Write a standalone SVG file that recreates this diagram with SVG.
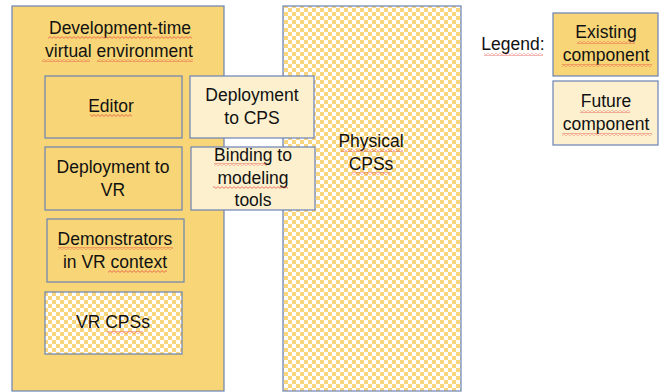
<svg xmlns="http://www.w3.org/2000/svg" width="665" height="392" viewBox="0 0 665 392">
<defs>
<pattern id="chk" width="8" height="8" patternUnits="userSpaceOnUse">
<rect width="8" height="8" fill="#FFFFFF"/>
<rect width="4" height="4" fill="#F9D67C"/>
<rect x="4" y="4" width="4" height="4" fill="#F9D67C"/>
</pattern>
<pattern id="sq" width="4" height="3" patternUnits="userSpaceOnUse">
<path d="M0 2.4 L2 0.6 L4 2.4" fill="none" stroke="#E0413A" stroke-width="0.7"/>
</pattern>
</defs>
<style>
.ex{fill:#F8D677;stroke:#6A82B6;stroke-width:1.2}
.fu{fill:#FCF0CF;stroke:#6A82B6;stroke-width:1.2}
.ck{fill:url(#chk);stroke:#6A82B6;stroke-width:1.2}
text{font-family:"Liberation Sans",Arial,sans-serif;font-size:17.5px;fill:#111;text-anchor:middle}
.sq{fill:url(#sq)}
</style>
<rect width="665" height="392" fill="#FFFFFF"/>
<g id="devenv">
<rect class="ex" x="12" y="6" width="212" height="385"/>
<text x="120" y="34">Development-time</text>
<text x="119" y="57">virtual environment</text>
</g>
<g id="physical">
<rect class="ck" x="283" y="6" width="178" height="385"/>
<text x="371" y="147">Physical</text>
<text x="371" y="170">CPSs</text>
</g>
<g id="editor">
<rect class="ex" x="45" y="76" width="137" height="62"/>
<text x="111" y="112">Editor</text>
</g>
<g id="deploycps">
<rect class="fu" x="190" y="76" width="124" height="62"/>
<text x="252" y="101">Deployment</text>
<text x="252" y="124">to CPS</text>
</g>
<g id="deployvr">
<rect class="ex" x="45" y="147" width="137" height="63"/>
<text x="113" y="173">Deployment to</text>
<text x="113" y="196">VR</text>
</g>
<g id="binding">
<rect class="fu" x="191" y="147" width="124" height="63"/>
<text x="253" y="161">Binding to</text>
<text x="253" y="184">modeling</text>
<text x="253" y="206">tools</text>
</g>
<g id="demonstrators">
<rect class="ex" x="47" y="219" width="137" height="63"/>
<text x="115" y="245">Demonstrators</text>
<text x="115" y="268">in VR context</text>
</g>
<g id="vrcps">
<rect class="ck" x="45" y="292" width="137" height="62"/>
<text x="113" y="328">VR CPSs</text>
</g>
<g id="legend">
<text x="513" y="50">Legend:</text>
<rect class="ex" x="553" y="13" width="105" height="63"/>
<text x="606" y="38">Existing</text>
<text x="606" y="61">component</text>
<rect class="fu" x="553" y="81" width="105" height="64"/>
<text x="606" y="107">Future</text>
<text x="606" y="130">component</text>
</g>
<g id="spellmarks">
<rect class="sq" x="48" y="36" width="144" height="3"/>
<rect class="sq" x="42" y="59" width="48" height="3"/>
<rect class="sq" x="97" y="59" width="96" height="3"/>
<rect class="sq" x="90" y="114" width="42" height="3"/>
<rect class="sq" x="214" y="163" width="53" height="3"/>
<rect class="sq" x="213" y="186" width="75" height="3"/>
<rect class="sq" x="58" y="247" width="115" height="3"/>
<rect class="sq" x="108" y="270" width="59" height="3"/>
<rect class="sq" x="107" y="331" width="36" height="3"/>
<rect class="sq" x="341" y="149" width="62" height="3"/>
<rect class="sq" x="352" y="172" width="38" height="3"/>
<rect class="sq" x="484" y="53" width="59" height="3"/>
<rect class="sq" x="577" y="41" width="58" height="3"/>
<rect class="sq" x="562" y="64" width="90" height="3"/>
<rect class="sq" x="580" y="110" width="50" height="3"/>
<rect class="sq" x="562" y="133" width="90" height="3"/>
</g>
<g id="connectors"></g>
</svg>
